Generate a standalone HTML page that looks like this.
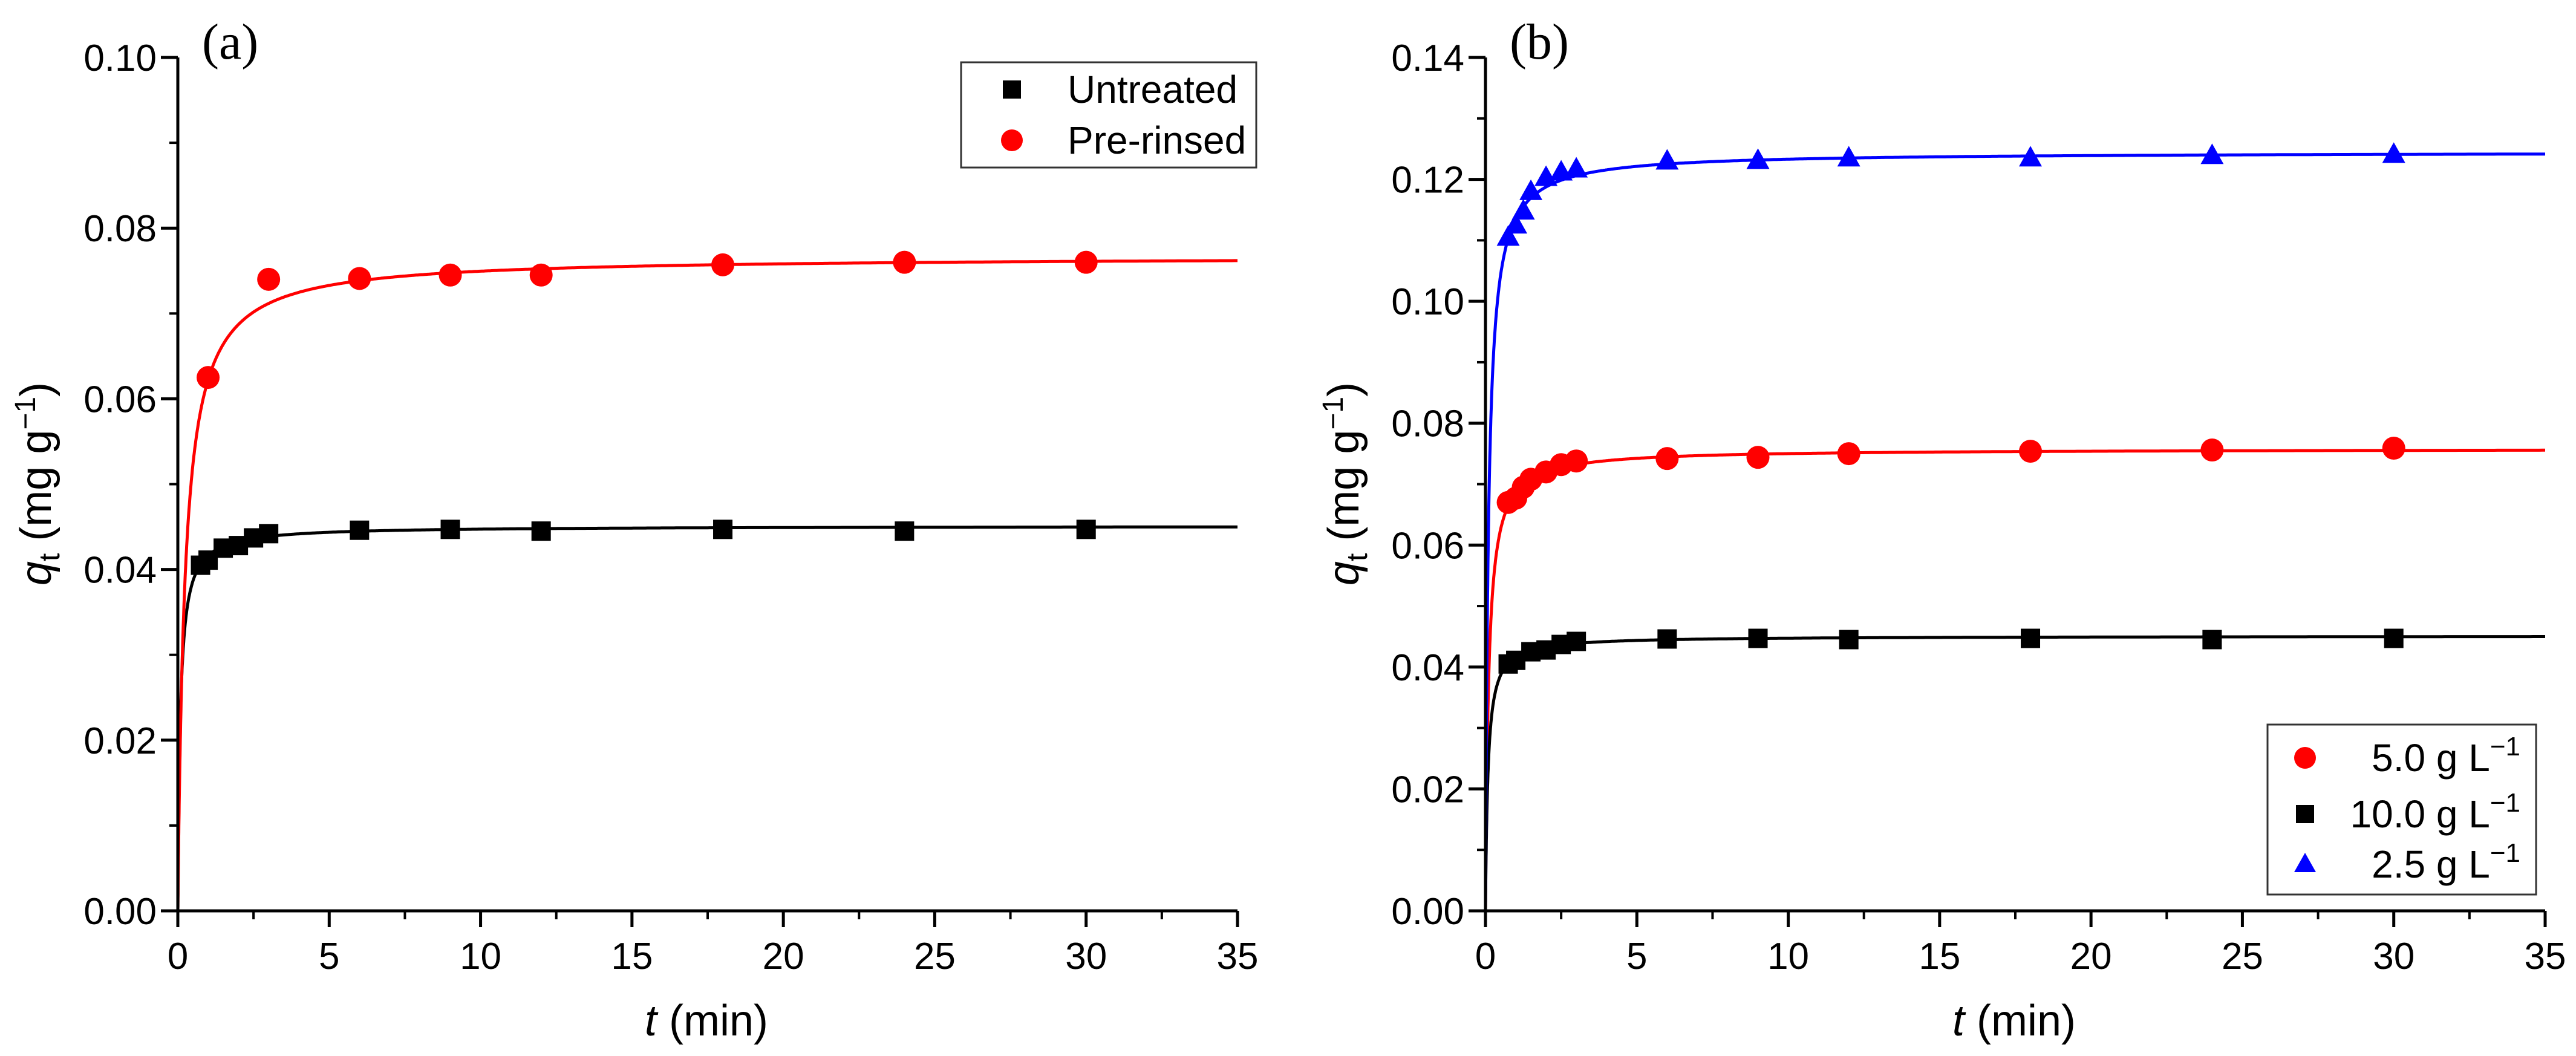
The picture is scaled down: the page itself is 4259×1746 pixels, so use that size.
<!DOCTYPE html>
<html><head><meta charset="utf-8"><style>
html,body{margin:0;padding:0;background:#fff;}
svg{display:block;font-family:"Liberation Sans",Arial,sans-serif;}
</style></head><body>
<svg id="chart" width="4259" height="1746" viewBox="0 0 4259 1746" xmlns="http://www.w3.org/2000/svg"></svg>
<script>
// Panel (a) data
const tA_untreated = [0.75,1,1.5,2,2.5,3,6,9,12,18,24,30];
const qA_untreated = [0.0405,0.0411,0.0425,0.0428,0.0437,0.0442,0.0446,0.0447,0.0445,0.0447,0.0445,0.0447];
const tA_rinsed = [1,3,6,9,12,18,24,30];
const qA_rinsed = [0.0625,0.0740,0.0741,0.0745,0.0745,0.0757,0.0760,0.0760];
const fitA_qe = [0.0451,0.0767];
const fitA_k = [266,56];
// Panel (b) data
const tB = [0.75,1,1.25,1.5,2,2.5,3,6,9,12,18,24,30];
const qB_5 = [0.0670,0.0677,0.0695,0.0708,0.0720,0.0732,0.0738,0.0742,0.0744,0.0750,0.0754,0.0756,0.0759];
const tB_10 = [0.75,1,1.5,2,2.5,3,6,9,12,18,24,30];
const qB_10 = [0.0405,0.0411,0.0425,0.0428,0.0437,0.0442,0.0446,0.0447,0.0445,0.0447,0.0445,0.0447];
const qB_25 = [0.1105,0.1125,0.1148,0.1180,0.1203,0.1212,0.1217,0.1230,0.1231,0.1235,0.1235,0.1239,0.1241];
const fitB_qe = [0.0758,0.0451,0.1245];
const fitB_k = [125,266,83];
const xTicks = [0,5,10,15,20,25,30,35];
const yTicksA = [0,0.02,0.04,0.06,0.08,0.10];
const yTicksB = [0,0.02,0.04,0.06,0.08,0.10,0.12,0.14];

const NS="http://www.w3.org/2000/svg";
const svg=document.getElementById('chart');
function mk(tag,attrs,parent){const e=document.createElementNS(NS,tag);for(const k in attrs)e.setAttribute(k,attrs[k]);(parent||svg).appendChild(e);return e;}

function panel(opt){
  const W=1752;
  const g=mk('g',{});
  
  
  const X=t=>opt.x0+(t/35)*W;
  const Y=v=>1506-(v/opt.ymax)*1411;
  opt.fits.forEach((f,i)=>{
    let d='';
    for(let j=0;j<=700;j++){const t=35*Math.pow(j/700,2);const q=f.qe*f.qe*f.k*t/(1+f.qe*f.k*t);d+=(j?'L':'M')+X(t).toFixed(1)+','+Y(q).toFixed(1);}
    const p=mk('path',{d:d,fill:'none',stroke:f.color,'stroke-width':5},g);
    
    
  });
  const ax=mk('path',{d:`M${opt.x0},95 L${opt.x0},1506 L${opt.x0+W},1506`,fill:'none',stroke:'#000','stroke-width':5},g);
  
  
  xTicks.forEach(t=>{
    mk('line',{x1:X(t),y1:1506,x2:X(t),y2:1533,stroke:'#000','stroke-width':5},g);
    if(t<35)mk('line',{x1:X(t+2.5),y1:1506,x2:X(t+2.5),y2:1520,stroke:'#000','stroke-width':4},g);
    const tx=mk('text',{x:X(t),y:1602,'font-size':62,'text-anchor':'middle'},g);tx.textContent=t;
    
    
  });
  opt.yTicks.forEach((v,i)=>{
    mk('line',{x1:opt.x0,y1:Y(v),x2:opt.x0-28,y2:Y(v),stroke:'#000','stroke-width':5},g);
    if(i<opt.yTicks.length-1)mk('line',{x1:opt.x0,y1:Y(v+opt.ystep/2),x2:opt.x0-14,y2:Y(v+opt.ystep/2),stroke:'#000','stroke-width':4},g);
    const tx=mk('text',{x:opt.x0-35,y:Y(v)+22,'font-size':62,'text-anchor':'end'},g);tx.textContent=v.toFixed(2);
    
    
  });
  const xt=mk('text',{x:opt.x0+874,y:1712,'font-size':72,'text-anchor':'middle'},g);
  xt.innerHTML='<tspan font-style="italic">t</tspan> (min)';
  
  
  const yt=mk('text',{x:0,y:0,'font-size':72,'text-anchor':'middle',transform:`translate(${opt.x0-210},800) rotate(-90)`},g);
  yt.innerHTML='<tspan font-style="italic">q</tspan><tspan font-size="48" dy="14">t</tspan><tspan dy="-14"> (mg g</tspan><tspan font-size="48" dy="-26">−1</tspan><tspan dy="26">)</tspan>';
  
  
  const lab=mk('text',{x:opt.x0+40,y:97,'font-size':84,'font-family':'"Liberation Serif",serif'},g);
  lab.textContent=opt.label;
  
  
  opt.series.forEach(s=>{
    s.t.forEach((t,i)=>{
      const cx=X(t),cy=Y(s.q[i]);let m;
      if(s.shape==='sq')m=mk('rect',{x:cx-16,y:cy-16,width:32,height:32,fill:s.color},g);
      else if(s.shape==='ci')m=mk('circle',{cx:cx,cy:cy,r:19,fill:s.color},g);
      else m=mk('polygon',{points:`${cx},${cy-20} ${cx-19},${cy+14} ${cx+19},${cy+14}`,fill:s.color},g);
      
      
    });
  });
  const L=opt.legend;
  const lg=mk('g',{},g);
  
  
  mk('rect',{x:L.x,y:L.y,width:L.w,height:L.h,fill:'#fff',stroke:'#333','stroke-width':3},lg);
  L.items.forEach(it=>{
    const mx=L.mx,my=it.y;
    if(it.shape==='sq')mk('rect',{x:mx-15,y:my-15,width:30,height:30,fill:it.color},lg);
    else if(it.shape==='ci')mk('circle',{cx:mx,cy:my,r:18,fill:it.color},lg);
    else mk('polygon',{points:`${mx},${my-19} ${mx-18},${my+13} ${mx+18},${my+13}`,fill:it.color},lg);
    const tx=mk('text',{x:L.tx,y:my+22,'font-size':64,'text-anchor':L.anchor},lg);
    tx.innerHTML=it.text;
    
    
  });
}
const sup=' g L<tspan font-size="44" dy="-26">−1</tspan>';
panel({name:'panel-a',label:'(a)',x0:294,ymax:0.10,ystep:0.02,yTicks:yTicksA,
  fits:[{qe:fitA_qe[0],k:fitA_k[0],color:'#000',name:'untreated-fit'},{qe:fitA_qe[1],k:fitA_k[1],color:'#ff0000',name:'pre-rinsed-fit'}],
  series:[{t:tA_untreated,q:qA_untreated,shape:'sq',color:'#000',name:'untreated'},{t:tA_rinsed,q:qA_rinsed,shape:'ci',color:'#ff0000',name:'pre-rinsed'}],
  legend:{x:1589,y:103,w:488,h:174,mx:1673,tx:1765,anchor:'start',items:[{y:148,shape:'sq',color:'#000',text:'Untreated'},{y:232,shape:'ci',color:'#ff0000',text:'Pre-rinsed'}]}});
panel({name:'panel-b',label:'(b)',x0:2456,ymax:0.14,ystep:0.02,yTicks:yTicksB,
  fits:[{qe:fitB_qe[0],k:fitB_k[0],color:'#ff0000',name:'5g-fit'},{qe:fitB_qe[1],k:fitB_k[1],color:'#000',name:'10g-fit'},{qe:fitB_qe[2],k:fitB_k[2],color:'#0000ff',name:'2-5g-fit'}],
  series:[{t:tB,q:qB_5,shape:'ci',color:'#ff0000',name:'5g'},{t:tB_10,q:qB_10,shape:'sq',color:'#000',name:'10g'},{t:tB,q:qB_25,shape:'tr',color:'#0000ff',name:'2-5g'}],
  legend:{x:3749,y:1198,w:444,h:281,mx:3811,tx:4167,anchor:'end',items:[{y:1253,shape:'ci',color:'#ff0000',text:'5.0'+sup},{y:1346,shape:'sq',color:'#000',text:'10.0'+sup},{y:1429,shape:'tr',color:'#0000ff',text:'2.5'+sup}]}});
</script>
</body></html>
